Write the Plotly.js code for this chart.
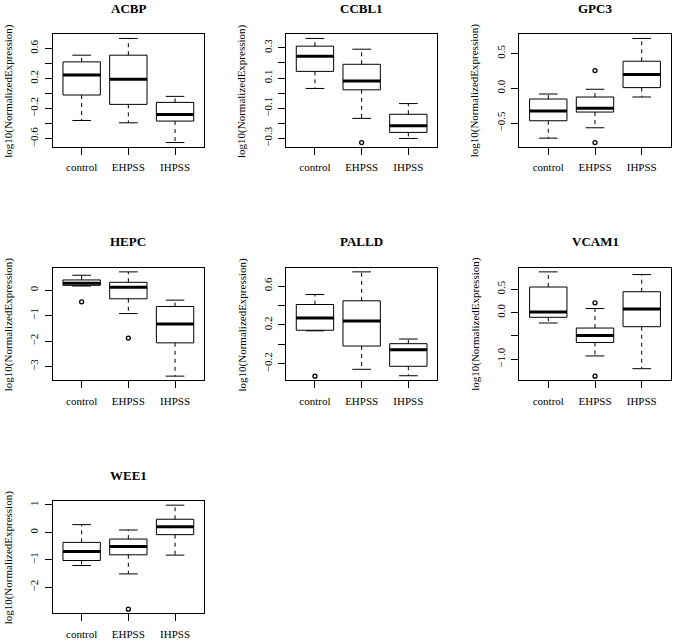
<!DOCTYPE html>
<html>
<head>
<meta charset="utf-8">
<script src="https://cdn.plot.ly/plotly-3.0.1.min.js"></script>
<style>html,body{margin:0;padding:0;background:#fff;}#chart{width:675px;height:641px;}</style>
</head>
<body>
<div id="chart"></div>
<script>
// ---- data ----
const categories = ['control', 'EHPSS', 'IHPSS'];
const genes = ['ACBP', 'CCBL1', 'GPC3', 'HEPC', 'PALLD', 'VCAM1', 'WEE1'];
// per gene: [control, EHPSS, IHPSS]
const lowerWhisker = [
  [-0.356, -0.387, -0.649],
  [0.031, -0.167, -0.300],
  [-0.716, -0.567, -0.125],
  [0.158, -0.921, -3.368],
  [0.140, -0.255, -0.321],
  [-0.223, -0.928, -1.201],
  [-1.207, -1.512, -0.829]
];
const q1Values = [
  [-0.018, -0.142, -0.364],
  [0.144, 0.022, -0.260],
  [-0.466, -0.341, 0.010],
  [0.184, -0.342, -2.066],
  [0.146, -0.016, -0.224],
  [-0.101, -0.640, -0.302],
  [-1.024, -0.817, -0.085]
];
const medianValues = [
  [0.249, 0.191, -0.276],
  [0.244, 0.080, -0.216],
  [-0.327, -0.288, 0.197],
  [0.263, 0.105, -1.329],
  [0.271, 0.240, -0.055],
  [0.014, -0.489, 0.079],
  [-0.695, -0.512, 0.207]
];
const q3Values = [
  [0.422, 0.511, -0.116],
  [0.311, 0.191, -0.140],
  [-0.154, -0.125, 0.389],
  [0.395, 0.303, -0.645],
  [0.410, 0.448, 0.008],
  [0.547, -0.331, 0.446],
  [-0.366, -0.244, 0.476]
];
const upperWhisker = [
  [0.511, 0.733, -0.036],
  [0.362, 0.291, -0.069],
  [-0.082, -0.014, 0.716],
  [0.579, 0.711, -0.395],
  [0.513, 0.745, 0.056],
  [0.871, 0.086, 0.813],
  [0.280, 0.085, 0.988]
];
// outliers: group index (1-based) and value
const outlierGroups = [
  [],
  [2],
  [2, 2],
  [1, 2],
  [1],
  [2, 2],
  [2]
];
const outlierValues = [
  [],
  [-0.327],
  [0.255, -0.779],
  [-0.46, -1.88],
  [-0.325],
  [0.209, -1.360],
  [-2.793]
];
const yTickVals = [
  [-0.6, -0.4, -0.2, 0, 0.2, 0.4, 0.6],
  [-0.3, -0.2, -0.1, 0, 0.1, 0.2, 0.3],
  [-0.5, 0, 0.5],
  [-3, -2, -1, 0],
  [-0.2, 0, 0.2, 0.4, 0.6],
  [-1, -0.5, 0, 0.5],
  [-2, -1, 0, 1]
];
const yTickText = [
  ['\u22120.6', '', '\u22120.2', '', '0.2', '', '0.6'],
  ['\u22120.3', '', '\u22120.1', '', '0.1', '', '0.3'],
  ['\u22120.5', '0.0', '0.5'],
  ['\u22123', '\u22122', '\u22121', '0'],
  ['\u22120.2', '', '0.2', '', '0.6'],
  ['\u22121.0', '', '0.0', '0.5'],
  ['\u22122', '\u22121', '0', '1']
];
const yLabel = 'log10(NormalizedExpression)';

// ---- layout geometry (pixels) ----
const W = 675, H = 641;
const colPx = [[52.7, 204], [286, 437.3], [519.3, 670.7]];
const rowPx = [[34.3, 146.7], [267.7, 380.3], [501, 613.3]];
const FONT = 'Liberation Serif, Times New Roman, serif';

const traces = [];
const layout = {
  width: W, height: H,
  margin: {l: 0, r: 0, t: 0, b: 0},
  paper_bgcolor: '#fff', plot_bgcolor: '#fff',
  showlegend: false, hovermode: false,
  font: {family: FONT, color: '#000', size: 11},
  annotations: []
};

const xPos = [1, 2, 3];
const halfBox = 0.4, halfStaple = 0.2;

genes.forEach((g, k) => {
  const r = Math.floor(k / 3), c = k % 3;
  const sfx = k === 0 ? '' : String(k + 1);
  const xa = 'x' + sfx, ya = 'y' + sfx;
  const xd = [colPx[c][0] / W, colPx[c][1] / W];
  const yd = [1 - rowPx[r][1] / H, 1 - rowPx[r][0] / H];

  // data range with 4% padding (R default)
  const all = [].concat(lowerWhisker[k], upperWhisker[k], outlierValues[k]);
  const mn = Math.min(...all), mx = Math.max(...all);
  const pad = (mx - mn) * 0.04;

  // box bodies
  traces.push({
    type: 'box', xaxis: xa, yaxis: ya,
    x: xPos, q1: q1Values[k], median: medianValues[k], q3: q3Values[k],
    lowerfence: q1Values[k], upperfence: q3Values[k],
    width: 2 * halfBox, whiskerwidth: 0, boxpoints: false,
    fillcolor: '#ffffff', line: {color: '#000', width: 1}
  });
  const wx = [], wy = [], sx = [], sy = [], mxs = [], mys = [];
  xPos.forEach((p, i) => {
    wx.push(p, p, null, p, p, null);
    wy.push(q3Values[k][i], upperWhisker[k][i], null, q1Values[k][i], lowerWhisker[k][i], null);
    sx.push(p - halfStaple, p + halfStaple, null, p - halfStaple, p + halfStaple, null);
    sy.push(upperWhisker[k][i], upperWhisker[k][i], null, lowerWhisker[k][i], lowerWhisker[k][i], null);
    mxs.push(p - halfBox, p + halfBox, null);
    mys.push(medianValues[k][i], medianValues[k][i], null);
  });
  // whiskers (dashed)
  traces.push({type: 'scatter', mode: 'lines', xaxis: xa, yaxis: ya, x: wx, y: wy,
    line: {color: '#000', width: 1, dash: '4px,4px'}, connectgaps: false});
  // staples
  traces.push({type: 'scatter', mode: 'lines', xaxis: xa, yaxis: ya, x: sx, y: sy,
    line: {color: '#000', width: 1}, connectgaps: false});
  // medians (thick)
  traces.push({type: 'scatter', mode: 'lines', xaxis: xa, yaxis: ya, x: mxs, y: mys,
    line: {color: '#000', width: 3}, connectgaps: false});
  if (outlierValues[k].length) {
    traces.push({type: 'scatter', mode: 'markers', xaxis: xa, yaxis: ya,
      x: outlierGroups[k], y: outlierValues[k],
      marker: {symbol: 'circle-open', size: 4, color: '#000', line: {width: 1.3, color: '#000'}}});
  }

  layout['xaxis' + sfx] = {
    domain: xd, anchor: ya, range: [0.38, 3.62],
    tickvals: xPos, ticktext: categories,
    ticks: 'outside', ticklen: 7, tickcolor: '#000', tickwidth: 1,
    showline: true, mirror: true, linecolor: '#000', linewidth: 1,
    showgrid: false, zeroline: false, fixedrange: true,
    tickfont: {family: FONT, size: 11, color: '#000'}, ticklabelstandoff: 3
  };
  layout['yaxis' + sfx] = {
    domain: yd, anchor: xa, range: [mn - pad, mx + pad],
    tickvals: yTickVals[k], ticktext: yTickText[k], tickangle: -90,
    ticks: 'outside', ticklen: 7, tickcolor: '#000', tickwidth: 1,
    showline: true, mirror: true, linecolor: '#000', linewidth: 1,
    showgrid: false, zeroline: false, fixedrange: true,
    tickfont: {family: FONT, size: 11, color: '#000'}, ticklabelstandoff: 2
  };
  // panel title
  layout.annotations.push({
    text: '<b>' + g + '</b>', xref: 'paper', yref: 'paper',
    x: (xd[0] + xd[1]) / 2, y: yd[1] + 26 / H, xanchor: 'center', yanchor: 'middle',
    showarrow: false, font: {family: FONT, size: 13, color: '#000'}
  });
  // y-axis label
  layout.annotations.push({
    text: yLabel, xref: 'paper', yref: 'paper', textangle: -90,
    x: xd[0] - 44.5 / W, y: (yd[0] + yd[1]) / 2, xanchor: 'center', yanchor: 'middle',
    showarrow: false, font: {family: FONT, size: 11, color: '#000'}
  });
});

Plotly.newPlot('chart', traces, layout, {displayModeBar: false, staticPlot: true});
</script>
</body>
</html>
